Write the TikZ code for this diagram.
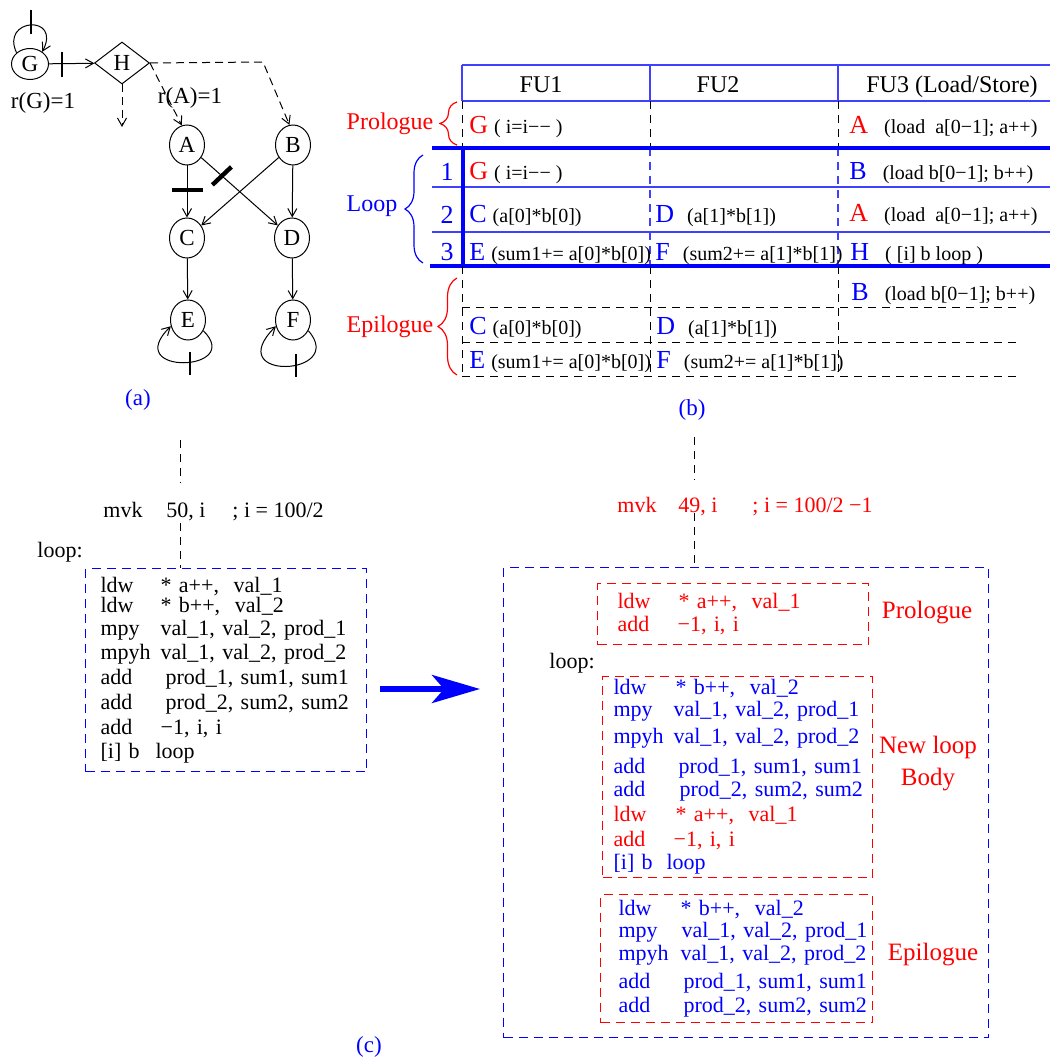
\documentclass[tikz,border=0pt]{standalone}
\usepackage{fontspec}
\setmainfont{Liberation Serif}
\usetikzlibrary{arrows.meta,positioning,calc,shapes.geometric,decorations.pathreplacing}

% one code line: opcode in a fixed column, then operands
\newcommand{\cl}[3][30pt]{\mbox{\makebox[#1][l]{#2}#3}}
% big letters in the schedule table
\newcommand{\bl}[1]{\textcolor{blue}{\fontsize{13}{14}\selectfont #1}}
\newcommand{\rd}[1]{\textcolor{red}{\fontsize{13}{14}\selectfont #1}}

\begin{document}
\begin{tikzpicture}[
  x=0.5pt, y=-0.5pt,
  font=\fontsize{11}{12}\selectfont,
  vertex/.style={draw, ellipse, line width=0.5pt, minimum width=17.5pt, minimum height=20pt, inner sep=0pt, font=\fontsize{11.5}{13}\selectfont},
  arr/.style={-{Straight Barb[length=4pt,width=4.5pt]}, line width=0.5pt},
  darr/.style={arr, dash pattern=on 4pt off 2.5pt},
  tick/.style={line width=1pt},
  bigtick/.style={line width=2.2pt},
  tline/.style={draw=blue!75, line width=0.6pt},
  bline/.style={draw=blue, line width=2pt},
  cdash/.style={dash pattern=on 4pt off 3pt, line width=0.5pt},
  codebox/.style={draw, dash pattern=on 4.5pt off 3pt, line width=0.6pt, anchor=north west, align=left, inner ysep=1pt},
  cell/.style={anchor=base west, inner sep=0pt, font=\fontsize{10}{12}\selectfont},
  lbl/.style={font=\fontsize{12}{14}\selectfont},
  caplbl/.style={blue, font=\fontsize{11.5}{13}\selectfont},
  brc/.style={decorate, line width=0.6pt},
  bigarrow/.style={draw=blue, line width=2.8pt, -{Stealth[length=24pt, width=14pt, inset=6pt]}}
]
\useasboundingbox (0,0) rectangle (1050,1059);

%% (a) dependence graph
\node[vertex, minimum width=18.5pt, minimum height=15.5pt] (G) at (30,64) {G};
\node[draw, diamond, aspect=1.3, line width=0.5pt, minimum width=27.5pt, minimum height=21pt, inner sep=0pt, font=\fontsize{11.5}{13}\selectfont] (H) at (122,63) {H};
\node[vertex] (A) at (187,145) {A};
\node[vertex] (B) at (293,145) {B};
\node[vertex] (C) at (187,238) {C};
\node[vertex] (D) at (292,238) {D};
\node[vertex] (E) at (188,320) {E};
\node[vertex] (F) at (293,320) {F};
\node[font=\fontsize{11.5}{13}\selectfont] (rG) at (43,103) {r(G)=1};
\node[font=\fontsize{11.5}{13}\selectfont] (rA) at (190,98) {r(A)=1};
\coordinate (hdown) at (122,127);
\coordinate (hbend) at (263,62);

\draw[arr] (G.140) .. controls (0,18) and (62,14) .. (G.45) coordinate[pos=0.5] (gl);
\draw[tick] ($(gl)+(0,-15)$) -- ($(gl)+(0,9)$);
\draw[arr] (G) -- (H) coordinate[pos=0.29] (gh);
\draw[tick] ($(gh)+(0,-12)$) -- ($(gh)+(0,13)$);
\draw[darr] (H.south) -- (hdown);
\draw[darr] (H.east) -- (A.105);
\draw[darr] (H.east) -- (hbend) -- (B.100);
\draw[arr] (A) -- (C) coordinate[pos=0.47] (ac);
\draw[bigtick] ($(ac)+(-15,0)$) -- ($(ac)+(16,0)$);
\draw[arr] (A) -- (D) coordinate[pos=0.27] (ad);
\draw[bigtick] ($(ad)+(-9.5,9)$) -- ($(ad)+(9.5,-9)$);
\draw[arr] (B) -- (C);
\draw[arr] (B) -- (D);
\draw[arr] (C) -- (E);
\draw[arr] (D) -- (F);
\draw[arr] (E.-35) .. controls (245,372) and (120,376) .. (E.200) coordinate[pos=0.45] (el);
\draw[tick] ($(el)+(0,-10)$) -- ($(el)+(0,13)$);
\draw[arr] (F.-35) .. controls (348,376) and (220,382) .. (F.200) coordinate[pos=0.42] (fl);
\draw[tick] ($(fl)+(0,-11)$) -- ($(fl)+(0,12)$);
\node[caplbl] (capa) at (138,400) {(a)};

%% (b) schedule table
\draw[tline] (462,65) -- (1050,65) (462,101) -- (1050,101);
\foreach \x in {462,650,838} \draw[tline] (\x,65) -- (\x,101);
\foreach \x in {462,650,838} \draw[cdash] (\x,101) -- (\x,148);
\draw[tline] (432,187) -- (1050,187) (432,232) -- (1050,232);
\foreach \x in {650,838} \draw[tline, dash pattern=on 4pt off 3pt] (\x,148) -- (\x,266);
\draw[bline] (432,148) -- (1050,148) (430,266) -- (1050,266);
\draw[bline] (463,148) -- (463,266);
\foreach \x in {462,650,838} \draw[cdash] (\x,266) -- (\x,376);
\foreach \y in {307,342,376} \draw[cdash] (462,\y) -- (1018,\y);

\node[lbl, anchor=base] (fu1) at (541,93) {FU1};
\node[lbl, anchor=base] (fu2) at (718,93) {FU2};
\node[lbl, anchor=base] (fu3) at (952,93) {FU3 (Load/Store)};

\node[lbl, red] (prolbl) at (390,124) {Prologue};
\node[lbl, blue] (looplbl) at (372,206) {Loop};
\node[lbl, red] (epilbl) at (390,327) {Epilogue};
\draw[brc, red, decoration={brace, amplitude=8.5pt}] (457,145) -- (457,102);
\draw[brc, blue, decoration={brace, amplitude=9pt}] (423,263) -- (423,155);
\draw[brc, red, decoration={brace, amplitude=9.5pt}] (457,375) -- (457,278);

\foreach \n/\y in {1/181, 2/224, 3/260}
  \node[blue, anchor=base, font=\fontsize{13}{14}\selectfont] (row\n) at (447,\y) {\n};

\node[cell] (p1) at (469,134) {\rd{G}\hspace{3pt}( i=i−− )};
\node[cell] (p3) at (849,134) {\rd{A}\hspace{8pt}(load\ \ a[0−1]; a++)};
\node[cell] (l11) at (469,180) {\rd{G}\hspace{3pt}( i=i−− )};
\node[cell] (l13) at (849,180) {\bl{B}\hspace{8pt}(load b[0−1]; b++)};
\node[cell] (l21) at (469,222) {\bl{C}\hspace{3pt}(a[0]*b[0])};
\node[cell] (l22) at (655,222) {\bl{D}\hspace{6.5pt}(a[1]*b[1])};
\node[cell] (l23) at (849,221) {\rd{A}\hspace{8pt}(load\ \ a[0−1]; a++)};
\node[cell] (l31) at (469,260) {\bl{E}\hspace{3pt}(sum1+= a[0]*b[0])};
\node[cell] (l32) at (655,261) {\bl{F}\hspace{6.5pt}(sum2+= a[1]*b[1])};
\node[cell] (l33) at (850,261) {\bl{H}\hspace{8pt}( [i] b loop )};
\node[cell] (e13) at (851,300) {\bl{B}\hspace{8pt}(load b[0−1]; b++)};
\node[cell] (e21) at (469,334) {\bl{C}\hspace{3pt}(a[0]*b[0])};
\node[cell] (e22) at (656,334) {\bl{D}\hspace{6.5pt}(a[1]*b[1])};
\node[cell] (e31) at (469,368) {\bl{E}\hspace{3pt}(sum1+= a[0]*b[0])};
\node[cell] (e32) at (656,368) {\bl{F}\hspace{6.5pt}(sum2+= a[1]*b[1])};
\node[caplbl] (capb) at (692,410) {(b)};

%% (c) original loop
\node[codebox, draw=blue, minimum width=140.5pt, minimum height=101.5pt, text width=125.5pt, inner xsep=7.5pt] (loopL) at (85,568)
  {\cl{ldw}{* a++,\ \ val\_1}\\[-2pt]
   \cl{ldw}{* b++,\ \ val\_2}\\[-0.5pt]
   \cl{mpy}{val\_1, val\_2, prod\_1}\\
   \cl{mpyh}{val\_1, val\_2, prod\_2}\\[0.5pt]
   \cl[32.5pt]{add}{prod\_1, sum1, sum1}\\[0.5pt]
   \cl[32.5pt]{add}{prod\_2, sum2, sum2}\\[0.5pt]
   \cl{add}{−1, i, i}\\
   \cl[27.5pt]{[i] b}{loop}};
\node[anchor=base west, inner sep=0pt] (mvkL) at (103,517) {\makebox[31.5pt][l]{mvk}\makebox[33pt][l]{50, i}; i = 100/2};
\node[anchor=base west, inner sep=0pt] (loopLab) at (37,557) {loop:};
\coordinate (ltop) at (180,440);
\coordinate (lgap) at (180,483);
\coordinate (lres) at (180,523);
\draw[cdash] (ltop) -- (lgap);
\draw[cdash] (lres) -- (lres |- loopL.north);

\coordinate (arrS) at (380,689);
\coordinate (arrE) at (480,689);
\draw[bigarrow] (arrS) -- (arrE);

%% (c) pipelined loop
\node[codebox, draw=blue, color=blue, minimum width=242.5pt, minimum height=235pt] (outerR) at (503,567) {};
\node[codebox, draw=red, text=red, text width=115.5pt, inner xsep=10pt, minimum height=30.5pt] (proR) at (597,583)
  {\cl[30.5pt]{ldw}{* a++,\ \ val\_1}\\[-0.5pt]
   \cl{add}{−1, i, i}};
\node[codebox, draw=red, text=blue, text width=124pt, inner xsep=5.5pt, minimum height=100.5pt] (bodyR) at (602,676)
  {\cl[31pt]{ldw}{* b++,\ \ val\_2}\\[-1pt]
   \cl{mpy}{val\_1, val\_2, prod\_1}\\[1.5pt]
   \cl{mpyh}{val\_1, val\_2, prod\_2}\\[3pt]
   \cl[32.5pt]{add}{prod\_1, sum1, sum1}\\[-0.5pt]
   \cl[33pt]{add}{prod\_2, sum2, sum2}\\[0.5pt]
   \textcolor{red}{\cl[31pt]{ldw}{* a++,\ \ val\_1}}\\[0.5pt]
   \textcolor{red}{\cl{add}{−1, i, i}}\\[-0.5pt]
   \cl[26.5pt]{[i] b}{loop}};
\node[codebox, draw=red, text=blue, text width=118pt, inner xsep=9pt, minimum height=64pt] (epiR) at (600,894)
  {\cl[31pt]{ldw}{* b++,\ \ val\_2}\\[-1pt]
   \cl[31.5pt]{mpy}{val\_1, val\_2, prod\_1}\\[-0.5pt]
   \cl[31pt]{mpyh}{val\_1, val\_2, prod\_2}\\[2pt]
   \cl[32.5pt]{add}{prod\_1, sum1, sum1}\\
   \cl[32.5pt]{add}{prod\_2, sum2, sum2}};
\node[red, font=\fontsize{12.5}{16}\selectfont] (proRL) at (927,613) {Prologue};
\node[red, font=\fontsize{12.5}{16}\selectfont, align=center] (bodyRL) at (928,764) {New loop\\Body};
\node[red, font=\fontsize{12.5}{16}\selectfont] (epiRL) at (933,955) {Epilogue};
\node[anchor=base west, inner sep=0pt] (loopLabR) at (549,668) {loop:};
\node[anchor=base west, inner sep=0pt, red] (mvkR) at (617,512) {\makebox[30.5pt][l]{mvk}\makebox[37pt][l]{49, i}; i = 100/2 −1};
\coordinate (rtop) at (694,437);
\coordinate (rgap) at (694,480);
\coordinate (rres) at (694,513);
\draw[cdash] (rtop) -- (rgap);
\draw[cdash] (rres) -- (rres |- outerR.north);
\node[caplbl] (capc) at (369,1047) {(c)};

\end{tikzpicture}
\end{document}
